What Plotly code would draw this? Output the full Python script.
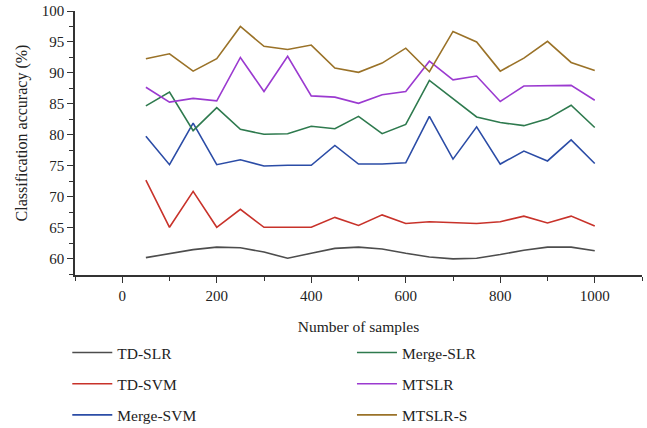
import plotly.graph_objects as go

samples = [50, 100, 150, 200, 250, 300, 350, 400, 450, 500,
           550, 600, 650, 700, 750, 800, 850, 900, 950, 1000]

td_slr = [60.2, 60.8, 61.5, 61.9, 61.8, 61.1, 60.1, 60.9, 61.7, 61.9,
          61.6, 60.9, 60.3, 60.0, 60.1, 60.7, 61.4, 61.9, 61.9, 61.3]
td_svm = [72.7, 65.1, 70.9, 65.1, 68.0, 65.1, 65.1, 65.1, 66.7, 65.4,
          67.1, 65.7, 66.0, 65.9, 65.7, 66.0, 66.9, 65.8, 66.9, 65.3]
merge_svm = [79.8, 75.2, 81.9, 75.2, 76.0, 75.0, 75.1, 75.1, 78.3, 75.3,
             75.3, 75.5, 83.0, 76.1, 81.3, 75.3, 77.4, 75.8, 79.2, 75.4]
merge_slr = [84.7, 86.9, 80.7, 84.4, 80.9, 80.1, 80.2, 81.4, 81.0, 83.0,
             80.2, 81.7, 88.8, 85.9, 82.9, 82.0, 81.5, 82.6, 84.8, 81.2]
mtslr = [87.7, 85.3, 85.9, 85.5, 92.5, 87.0, 92.7, 86.3, 86.1, 85.1,
         86.5, 87.0, 91.9, 88.9, 89.5, 85.4, 87.9, 88.0, 88.0, 85.6]
mtslr_s = [92.3, 93.1, 90.3, 92.3, 97.5, 94.3, 93.8, 94.5, 90.8, 90.1,
           91.6, 94.0, 90.2, 96.7, 95.0, 90.3, 92.4, 95.1, 91.7, 90.4]

series_left = [("TD-SLR", td_slr, "#4d4d4d"),
               ("TD-SVM", td_svm, "#c8322a"),
               ("Merge-SVM", merge_svm, "#2b4ca6")]
series_right = [("Merge-SLR", merge_slr, "#2e7a4e"),
                ("MTSLR", mtslr, "#9b3ad0"),
                ("MTSLR-S", mtslr_s, "#9a7228")]

FONT = "Liberation Serif"
fig = go.Figure()
for name, vals, col in series_left:
    fig.add_trace(go.Scatter(x=samples, y=vals, mode="lines", name=name,
                             line=dict(color=col, width=1.6),
                             legend="legend", legendgroup=name))
for name, vals, col in series_right:
    fig.add_trace(go.Scatter(x=samples, y=vals, mode="lines", name=name,
                             line=dict(color=col, width=1.6),
                             legend="legend2", legendgroup=name))

axis_common = dict(showline=True, linecolor="#333333", linewidth=1.5,
                   ticks="outside", tickcolor="#333333", ticklen=6, tickwidth=1.2,
                   showgrid=False, zeroline=False,
                   tickfont=dict(family=FONT, size=15, color="#222222"))

leg_common = dict(xanchor="left", yanchor="top", xref="container", yref="container",
                  font=dict(family=FONT, size=15.5, color="#222222"),
                  tracegroupgap=8, itemwidth=40, bgcolor="rgba(0,0,0,0)")

fig.update_layout(
    width=647, height=428,
    margin=dict(l=75, r=5, t=11, b=153, autoexpand=False),
    plot_bgcolor="white", paper_bgcolor="white",
    font=dict(family=FONT, color="#222222"),
    xaxis=dict(range=[-100, 1100], tickvals=[0, 200, 400, 600, 800, 1000],
               minor=dict(tickvals=[-100, 100, 300, 500, 700, 900, 1100], ticks="outside",
                          ticklen=4, tickcolor="#333333"),
               title=dict(text="Number of samples", font=dict(family=FONT, size=15.5, color="#222222"),
                          standoff=18),
               **axis_common),
    yaxis=dict(range=[57.4, 100], tickvals=[60, 65, 70, 75, 80, 85, 90, 95, 100],
               minor=dict(dtick=2.5, tick0=57.5, ticks="outside", ticklen=4, tickcolor="#333333"),
               **axis_common),
    legend=dict(x=0.104, y=0.215, **leg_common),
    legend2=dict(x=0.544, y=0.215, **leg_common),
    showlegend=True,
    annotations=[dict(text="Classification accuracy (%)", textangle=-90,
                      xref="paper", yref="paper", x=-0.0935, y=0.54,
                      xanchor="center", yanchor="middle", showarrow=False,
                      font=dict(family=FONT, size=16, color="#222222"))],
)

fig.write_html("out.html", config={"displayModeBar": False},
               post_script="document.body.style.margin='0';document.body.style.padding='0';")
